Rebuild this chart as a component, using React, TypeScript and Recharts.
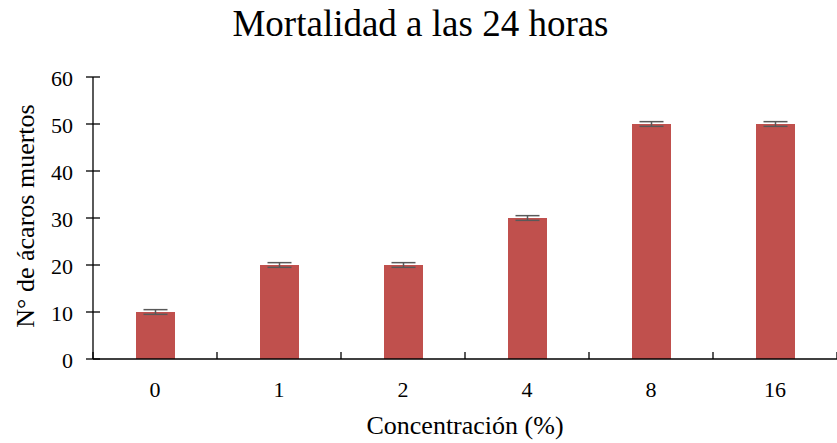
import React from 'react';
import { BarChart, Bar, XAxis, YAxis, ErrorBar } from 'recharts';

const concentrations = ['0', '1', '2', '4', '8', '16'];
const deadMites = [10, 20, 20, 30, 50, 50];
const errors = [0.5, 0.5, 0.5, 0.5, 0.5, 0.5];
const yTicks = [0, 10, 20, 30, 40, 50, 60];

const W = 837;
const H = 443;
const M = { top: 77, right: 0, bottom: 54, left: 0 };
const Y_W = 93;
const FONT = 'Liberation Serif, Tinos, Times New Roman, DejaVu Serif, serif';

const data = concentrations.map((c, i) => ({ name: c, value: deadMites[i], err: errors[i] }));
const half = (W - M.left - M.right - Y_W) / concentrations.length / 2;

const XTick = (props: any) => {
  const { x, y, payload, index } = props;
  const last = index === concentrations.length - 1;
  return (
    <g>
      <line x1={x - half} x2={x - half} y1={y - 7} y2={y} stroke="#000" strokeWidth={1.3} />
      {last && <line x1={x + half} x2={x + half} y1={y - 7} y2={y} stroke="#000" strokeWidth={1.3} />}
      <text x={x} y={y + 38} textAnchor="middle" style={{ fontFamily: FONT }} fontSize={22} fill="#000">
        {payload.value}
      </text>
    </g>
  );
};

const YTick = (props: any) => {
  const { x, y, payload } = props;
  return (
    <g>
      <line x1={x - 7} x2={x + 7} y1={y} y2={y} stroke="#000" strokeWidth={1.3} />
      <text x={x - 20} y={y + 8.5} textAnchor="end" style={{ fontFamily: FONT }} fontSize={22} fill="#000">
        {payload.value}
      </text>
    </g>
  );
};

export default function App() {
  return (
    <div style={{ position: 'absolute', left: 0, top: 0, width: W, height: H, background: '#fff', fontFamily: FONT }}>
      <div style={{ position: 'absolute', left: 0, width: W, top: 5, textAlign: 'center', fontSize: 37, lineHeight: 1, color: '#000', paddingLeft: 2 }}>
        Mortalidad a las 24 horas
      </div>
      <div
        style={{
          position: 'absolute', left: 26, top: 216, fontSize: 26, lineHeight: 1, color: '#000', whiteSpace: 'nowrap',
          transform: 'translate(-50%, -50%) rotate(-90deg)',
        }}
      >
        N° de ácaros muertos
      </div>
      <div style={{ position: 'absolute', left: 93, width: W - 93, top: 413, textAlign: 'center', fontSize: 26, lineHeight: 1, color: '#000' }}>
        Concentración (%)
      </div>
      <BarChart width={W} height={H} data={data} margin={M} style={{ position: 'absolute', left: 0, top: 0 }}>
        <XAxis
          dataKey="name"
          height={30}
          tickLine={false}
          tickSize={0}
          tickMargin={0}
          tick={<XTick />}
          axisLine={{ stroke: '#000', strokeWidth: 1.3 }}
          interval={0}
        />
        <YAxis
          width={Y_W}
          domain={[0, 60]}
          ticks={yTicks}
          tickLine={false}
          tickSize={0}
          tickMargin={0}
          tick={<YTick />}
          axisLine={{ stroke: '#000', strokeWidth: 1.3 }}
          interval={0}
        />
        <Bar dataKey="value" fill="#C0504D" barSize={39} isAnimationActive={false}>
          <ErrorBar dataKey="err" width={12} stroke="#595959" strokeWidth={1.5} direction="y" />
        </Bar>
      </BarChart>
    </div>
  );
}
